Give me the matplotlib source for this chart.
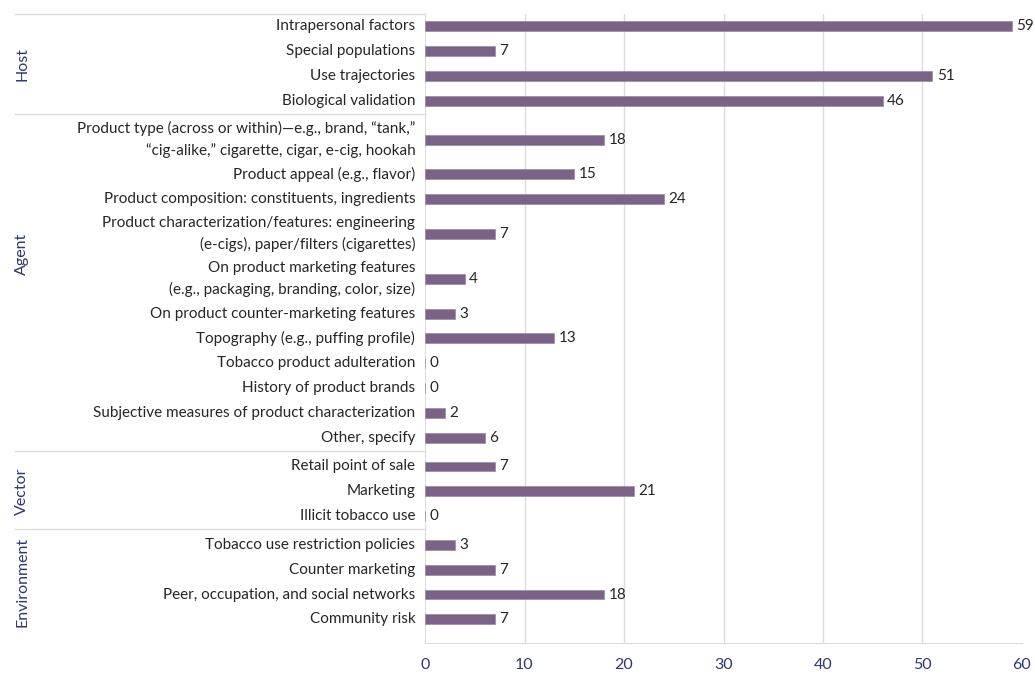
import matplotlib
matplotlib.use("Agg")
import matplotlib.pyplot as plt

plt.rcParams["font.family"] = ["Lato", "DejaVu Sans"]

groups = ["Host", "Agent", "Vector", "Environment"]

host_labels = ["Intrapersonal factors", "Special populations",
               "Use trajectories", "Biological validation"]
host_values = [59, 7, 51, 46]

agent_labels = [
    "Product type (across or within)\u2014e.g., brand, \u201ctank,\u201d\n"
    "\u201ccig-alike,\u201d cigarette, cigar, e-cig, hookah",
    "Product appeal (e.g., flavor)",
    "Product composition: constituents, ingredients",
    "Product characterization/features: engineering\n"
    "(e-cigs), paper/filters (cigarettes)",
    "On product marketing features\n"
    "(e.g., packaging, branding, color, size)",
    "On product counter-marketing features",
    "Topography (e.g., puffing profile)",
    "Tobacco product adulteration",
    "History of product brands",
    "Subjective measures of product characterization",
    "Other, specify",
]
agent_values = [18, 15, 24, 7, 4, 3, 13, 0, 0, 2, 6]

vector_labels = ["Retail point of sale", "Marketing", "Illicit tobacco use"]
vector_values = [7, 21, 0]

env_labels = ["Tobacco use restriction policies", "Counter marketing",
              "Peer, occupation, and social networks", "Community risk"]
env_values = [3, 7, 18, 7]

xticks = [0, 10, 20, 30, 40, 50, 60]

bar_color = "#7a6386"
text_color = "#262626"
navy = "#2e3770"
line_color = "#dcdcdc"

fig = plt.figure(figsize=(10.35, 6.75), dpi=100)
ax = fig.add_axes([425 / 1035, 1 - 643 / 675, 597 / 1035, 629 / 675])

# layout: rows of height 1, two-line labels get 1.8, small gap between groups
gap = 0.15
cursor = 0.0
ys, labels, values, bounds = [], [], [], []
for g_labels, g_values in [(host_labels, host_values), (agent_labels, agent_values),
                           (vector_labels, vector_values), (env_labels, env_values)]:
    start = cursor
    for lab, val in zip(g_labels, g_values):
        h = 1.8 if "\n" in lab else 1.0
        ys.append(cursor + h / 2)
        labels.append(lab)
        values.append(val)
        cursor += h
    bounds.append((start, cursor))
    cursor += gap

top = 0.0
bottom = bounds[-1][1] + 0.45

ax.barh(ys, values, height=0.4, color=bar_color, edgecolor="#9d88a6",
        linewidth=0.5, zorder=3)
for y, v in zip(ys, values):
    ax.text(v + 0.45, y, str(v), va="center", ha="left", fontsize=11,
            color=text_color)

ax.set_ylim(bottom, top)
ax.set_xlim(0, 60)
ax.set_yticks(ys)
ax.set_yticklabels(labels, fontsize=11, color=text_color, linespacing=1.55,
                   va="center")
ax.tick_params(axis="y", length=0, pad=7)
ax.set_xticks(xticks)
ax.tick_params(axis="x", length=0, pad=11, labelsize=11.5, labelcolor=navy)

for x in xticks[1:-1]:
    ax.axvline(x, color=line_color, linewidth=1, zorder=0)

for side in ["top", "right"]:
    ax.spines[side].set_visible(False)
for side in ["left", "bottom"]:
    ax.spines[side].set_color(line_color)

# group separators and group names
trans = ax.get_yaxis_transform()
x_left = (15 - 425) / 597
name_pos = [0.5, 0.41, 0.5, 0.5]
ax.plot([x_left, 0], [top, top], transform=trans,
        color=line_color, linewidth=1, clip_on=False)
for (s, e), name, f in zip(bounds, groups, name_pos):
    if name != groups[-1]:
        ax.plot([x_left, 0], [e + 0.02, e + 0.02], transform=trans,
                color=line_color, linewidth=1, clip_on=False)
    ax.text((22 - 425) / 597, s + (e - s) * f, name, transform=trans, rotation=90,
            va="center", ha="center", fontsize=11.5, color=navy)

plt.savefig("out.png", dpi=100)
